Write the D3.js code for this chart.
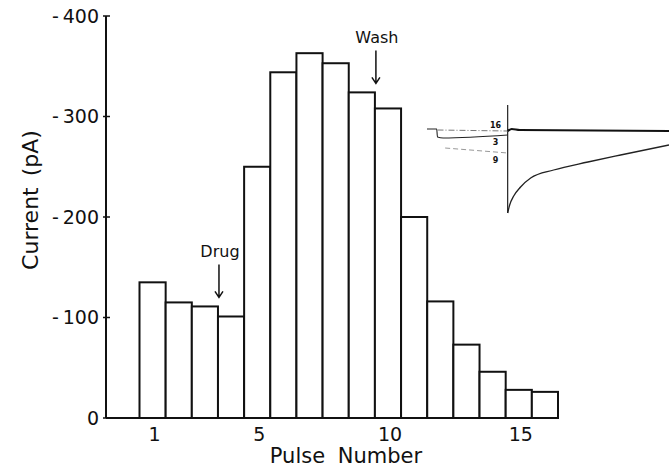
<!DOCTYPE html>
<html>
<head>
<meta charset="utf-8">
<script src="https://cdn.jsdelivr.net/npm/d3@7"></script>
<style>
  body { margin: 0; background: #fff; }
  text { font-family: "DejaVu Sans", sans-serif; fill: #111; }
</style>
</head>
<body>
<script>
// pulse numbers and peak current (pA, shown as negative)
var pulses = [1,2,3,4,5,6,7,8,9,10,11,12,13,14,15,16];
var currents = [135,115,111,101,250,344,363,353,324,308,200,116,73,46,28,26];
var yTicks = [0,100,200,300,400];
var xTickLabels = [1,5,10,15];
var markers = [{label: "Drug", pulse: 4}, {label: "Wash", pulse: 10}];

// inset traces: time (ms) vs current (pA)
var trace16Pre = [[-17.4,-1],[0,-2]];
var trace16Post = [[0,-2],[1,0],[3,-1],[40,-2]];
var trace3Pre = [[-20,0],[-17.6,0],[-17.4,-8],[-16,-9],[0,-6]];
var trace9Pre = [[-15.5,-19],[0,-24]];
var trace9Post = [[0,-84],[0.5,-76],[1.5,-67],[3.2,-58],[5.7,-49],[11.4,-41],[19.9,-33],[28,-26],[40,-16]];
var insetLabels = [{t:"16", v:4}, {t:"3", v:-13}, {t:"9", v:-31}];

var w = 669, h = 468;
var svg = d3.select('body').append('svg')
  .attr('width', w).attr('height', h);

var x = d3.scaleBand().domain(pulses).range([139.5, 558]).padding(0);
var y = d3.scaleLinear().domain([0, 400]).range([418, 16]);

// y axis
svg.append('line')
  .attr('x1', 106).attr('x2', 106)
  .attr('y1', y(0)).attr('y2', y(400))
  .attr('stroke', '#111').attr('stroke-width', 2);
svg.selectAll('.ytick').data(yTicks).enter().append('line')
  .attr('x1', 103).attr('x2', 110)
  .attr('y1', function(d){ return y(d); }).attr('y2', function(d){ return y(d); })
  .attr('stroke', '#111').attr('stroke-width', 1.5);
svg.selectAll('.ylab').data(yTicks).enter().append('text')
  .attr('x', 99).attr('y', function(d){ return y(d); })
  .attr('dy', '0.36em')
  .attr('text-anchor', 'end')
  .style('font-size', '19px')
  .text(function(d){ return d === 0 ? '0' : '-\u2009' + d; });

// x axis baseline
svg.append('line')
  .attr('x1', 106).attr('x2', x.range()[1])
  .attr('y1', y(0)).attr('y2', y(0))
  .attr('stroke', '#111').attr('stroke-width', 2);

// bars
svg.selectAll('.bar').data(currents).enter().append('rect')
  .attr('x', function(d,i){ return x(pulses[i]); })
  .attr('y', function(d){ return y(d); })
  .attr('width', x.bandwidth())
  .attr('height', function(d){ return y(0) - y(d); })
  .attr('fill', '#fff')
  .attr('stroke', '#111').attr('stroke-width', 2);

svg.selectAll('.xlab').data(xTickLabels).enter().append('text')
  .attr('x', function(d){ return x(d) + x.bandwidth()/2 + 2; })
  .attr('y', 441)
  .attr('text-anchor', 'middle')
  .style('font-size', '19px')
  .text(function(d){ return d; });

svg.append('text')
  .attr('x', 346).attr('y', 463)
  .attr('text-anchor', 'middle')
  .style('font-size', '21px')
  .style('word-spacing', '6px')
  .text('Pulse Number');

svg.append('text')
  .attr('transform', 'translate(38,200) rotate(-90)')
  .attr('text-anchor', 'middle')
  .style('font-size', '22px')
  .style('word-spacing', '4px')
  .text('Current (pA)');

// Drug / Wash arrows, pointing at the boundary before the marked pulse
markers.forEach(function(m){
  var cx = x(m.pulse) + 1;
  var top = y(Math.max(currents[m.pulse - 1], currents[m.pulse - 2]));
  var y2 = top - 9, y1 = y2 - 33;
  svg.append('text')
    .attr('x', cx + 1).attr('y', y1 - 7)
    .attr('text-anchor', 'middle')
    .style('font-size', '16px')
    .text(m.label);
  svg.append('path')
    .attr('d', 'M' + cx + ',' + y1 + 'V' + y2 + 'M' + (cx-4) + ',' + (y2-6) + 'L' + cx + ',' + y2 + 'L' + (cx+4) + ',' + (y2-6))
    .attr('fill', 'none').attr('stroke', '#111').attr('stroke-width', 1.5);
});

// inset
var tx = d3.scaleLinear().domain([-20, 40]).range([427, 669]);
var ty = d3.scaleLinear().domain([0, -90]).range([129, 219]);
var line = d3.line()
  .x(function(d){ return tx(d[0]); })
  .y(function(d){ return ty(d[1]); })
  .curve(d3.curveMonotoneX);
var inset = svg.append('g');
inset.append('line')
  .attr('x1', tx(0)).attr('x2', tx(0))
  .attr('y1', ty(24)).attr('y2', ty(-84))
  .attr('stroke', '#222').attr('stroke-width', 1.2);
inset.append('path').attr('d', line(trace16Pre))
  .attr('fill', 'none').attr('stroke', '#777').attr('stroke-width', 1).attr('stroke-dasharray', '6,2,1,2');
inset.append('path').attr('d', line(trace3Pre))
  .attr('fill', 'none').attr('stroke', '#222').attr('stroke-width', 1.1);
inset.append('path').attr('d', line(trace9Pre))
  .attr('fill', 'none').attr('stroke', '#999').attr('stroke-width', 1).attr('stroke-dasharray', '5,3');
inset.append('path').attr('d', line(trace9Post))
  .attr('fill', 'none').attr('stroke', '#222').attr('stroke-width', 1.3);
inset.append('path').attr('d', line(trace16Post))
  .attr('fill', 'none').attr('stroke', '#111').attr('stroke-width', 2.2);
inset.selectAll('.ilab').data(insetLabels).enter().append('text')
  .attr('x', tx(-3)).attr('y', function(d){ return ty(d.v); })
  .attr('dy', '0.35em')
  .attr('text-anchor', 'middle')
  .style('font-size', '8px').style('font-weight', 'bold')
  .text(function(d){ return d.t; });
</script>
</body>
</html>
